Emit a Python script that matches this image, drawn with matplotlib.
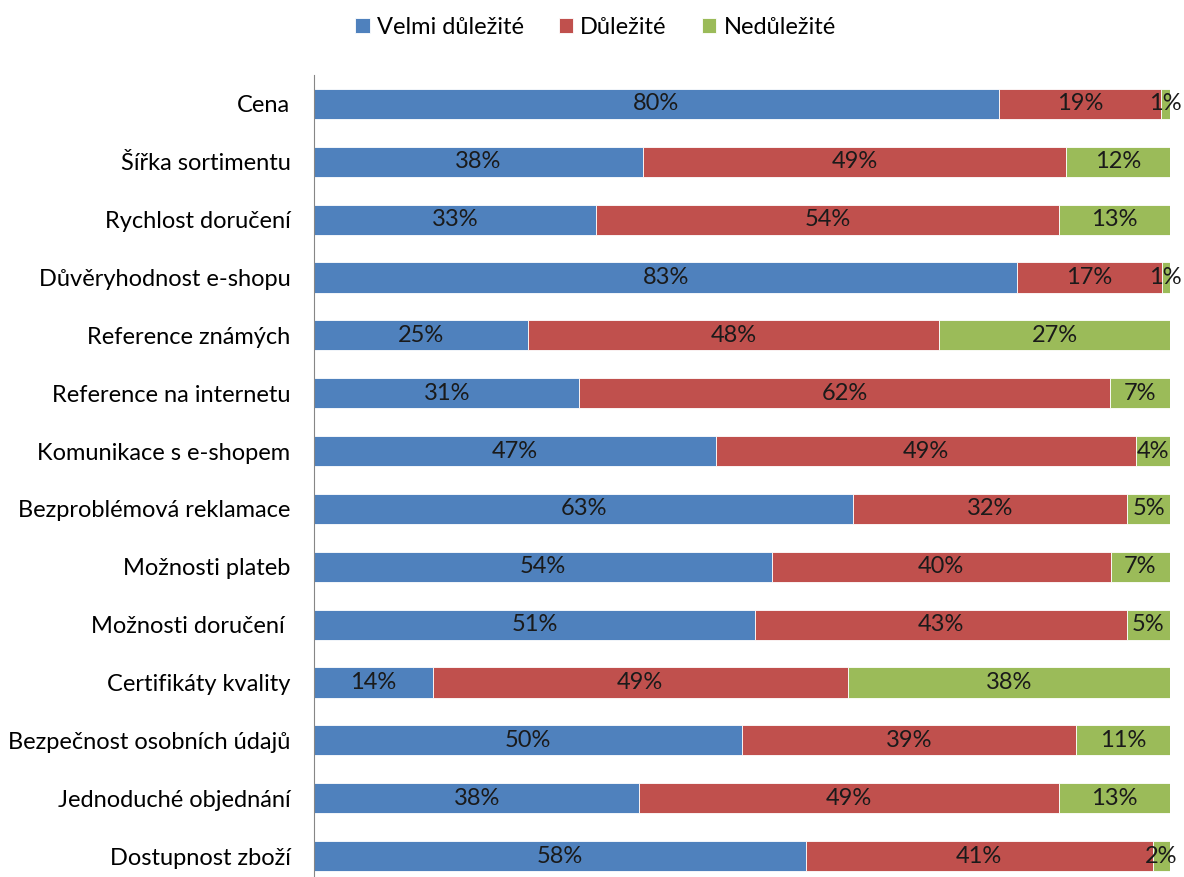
import matplotlib
matplotlib.use("Agg")
import matplotlib.pyplot as plt
import numpy as np

plt.rcParams['font.family'] = ['Lato', 'DejaVu Sans']

categories = ["Cena", "Šířka sortimentu", "Rychlost doručení", "Důvěryhodnost e-shopu",
              "Reference známých", "Reference na internetu", "Komunikace s e-shopem",
              "Bezproblémová reklamace", "Možnosti plateb", "Možnosti doručení ",
              "Certifikáty kvality", "Bezpečnost osobních údajů", "Jednoduché objednání",
              "Dostupnost zboží"]
velmi = [80, 38, 33, 83, 25, 31, 47, 63, 54, 51, 14, 50, 38, 58]
dulezite = [19, 49, 54, 17, 48, 62, 49, 32, 40, 43, 49, 39, 49, 41]
nedulezite = [1, 12, 13, 1, 27, 7, 4, 5, 7, 5, 38, 11, 13, 2]

series = [("Velmi důležité", velmi, "#4F81BD"),
          ("Důležité", dulezite, "#C0504D"),
          ("Nedůležité", nedulezite, "#9BBB59")]

fig = plt.figure(figsize=(11.84, 8.77), dpi=100)
ax = fig.add_axes([0.2652, -0.0091, 0.723, 0.9236])

y = np.arange(len(categories))
total = np.array(velmi) + np.array(dulezite) + np.array(nedulezite)
left = np.zeros(len(categories))
for name, vals, color in series:
    w = np.array(vals) / total
    ax.barh(y, w, left=left, height=0.52, color=color, edgecolor="white",
            linewidth=0.6, label=name)
    for yi, li, wi, v in zip(y, left, w, vals):
        ax.text(li + wi / 2, yi, f"{v}%", ha="center", va="center",
                fontsize=17, color="#1a1a1a")
    left += w

ax.set_xlim(0, 1)
ax.set_ylim(len(categories) - 0.5, -0.5)
ax.set_yticks(y)
ax.set_yticklabels(categories, fontsize=17)
ax.tick_params(axis="y", length=0, pad=17)
ax.set_xticks([])
for s in ["top", "right", "bottom"]:
    ax.spines[s].set_visible(False)
ax.spines["left"].set_color("#868686")

fig.legend(loc="upper center", bbox_to_anchor=(0.503, 1.005), ncol=3, frameon=False,
           fontsize=17, handlelength=0.6, handleheight=0.6, columnspacing=1.5,
           handletextpad=0.3)

fig.savefig("out.png", dpi=100)
